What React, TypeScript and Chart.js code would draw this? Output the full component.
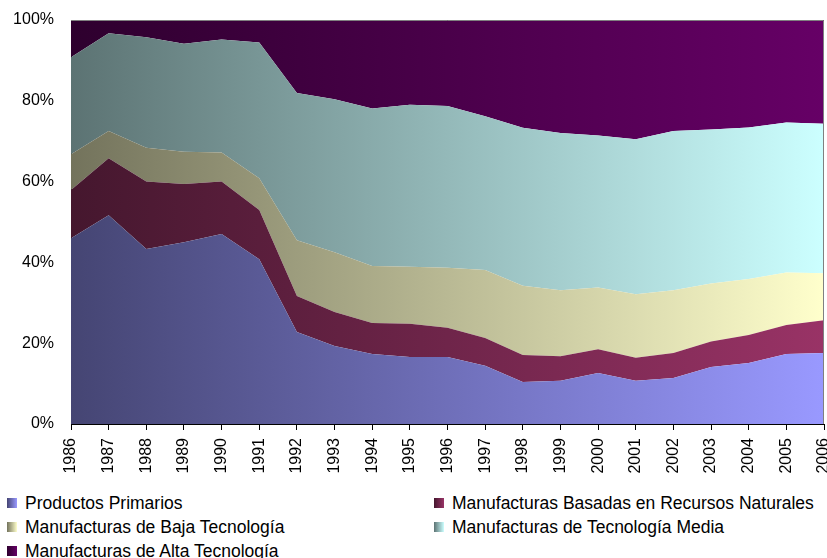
import React, { useEffect, useRef } from "react";
import { Chart, registerables } from "chart.js";

Chart.register(...registerables);

const years = ["1986","1987","1988","1989","1990","1991","1992","1993","1994","1995","1996","1997","1998","1999","2000","2001","2002","2003","2004","2005","2006"];

const productosPrimarios = [46.0, 51.7, 43.3, 45.0, 47.0, 40.8, 22.8, 19.3, 17.3, 16.6, 16.6, 14.4, 10.4, 10.7, 12.6, 10.7, 11.4, 14.1, 15.1, 17.3, 17.6];
const basadasRecursos = [11.9, 14.1, 16.7, 14.4, 13.0, 12.2, 8.9, 8.4, 7.7, 8.2, 7.2, 6.9, 6.7, 6.1, 5.9, 5.7, 6.2, 6.3, 6.9, 7.2, 8.1];
const bajaTecnologia = [8.9, 6.7, 8.4, 8.0, 7.2, 7.8, 13.8, 14.8, 14.1, 14.1, 14.9, 16.8, 17.1, 16.3, 15.3, 15.7, 15.5, 14.4, 13.9, 13.0, 11.6];
const mediaTecnologia = [24.0, 24.2, 27.3, 26.7, 28.0, 33.6, 36.4, 37.9, 39.0, 40.1, 40.0, 38.1, 39.1, 38.9, 37.6, 38.4, 39.4, 38.1, 37.5, 37.1, 37.0];
const altaTecnologia = [9.2, 3.3, 4.3, 5.9, 4.8, 5.6, 18.1, 19.6, 21.9, 21.0, 21.3, 23.8, 26.7, 28.0, 28.6, 29.5, 27.5, 27.1, 26.6, 25.4, 25.7];

const yTicks = [0, 20, 40, 60, 80, 100];

const seriesNames = [
  "Productos Primarios",
  "Manufacturas Basadas en Recursos Naturales",
  "Manufacturas de Baja Tecnología",
  "Manufacturas de Tecnología Media",
  "Manufacturas de Alta Tecnología",
];
const seriesData = [productosPrimarios, basadasRecursos, bajaTecnologia, mediaTecnologia, altaTecnologia];
const seriesColors: [number, number, number][] = [
  [153, 153, 255],
  [153, 51, 102],
  [255, 255, 204],
  [204, 255, 255],
  [102, 0, 102],
];

const DARK = 0.45;
const rgb = (c: [number, number, number], f: number) =>
  `rgb(${Math.round(c[0] * f)},${Math.round(c[1] * f)},${Math.round(c[2] * f)})`;

const FONT = '"Liberation Sans", Arial, sans-serif';

export default function App() {
  const ref = useRef<HTMLCanvasElement | null>(null);

  useEffect(() => {
    if (!ref.current) return;

    const xLabelPlugin = {
      id: "xLabels",
      afterDraw(chart: any) {
        const { ctx, chartArea } = chart;
        const xs = chart.scales.x;
        ctx.save();
        ctx.font = `16px ${FONT}`;
        ctx.fillStyle = "#000";
        ctx.textAlign = "right";
        ctx.textBaseline = "middle";
        years.forEach((lab, i) => {
          const x = xs.getPixelForValue(i);
          ctx.save();
          ctx.translate(x, chartArea.bottom + 14);
          ctx.rotate(-Math.PI / 2);
          ctx.fillText(lab, 0, 0);
          ctx.restore();
        });
        ctx.restore();
      },
    };

    const borderPlugin = {
      id: "plotBorder",
      afterDatasetsDraw(chart: any) {
        const { ctx, chartArea } = chart;
        ctx.save();
        ctx.strokeStyle = "#808080";
        ctx.lineWidth = 1;
        ctx.beginPath();
        ctx.moveTo(chartArea.left, chartArea.top + 0.5);
        ctx.lineTo(chartArea.right - 0.5, chartArea.top + 0.5);
        ctx.lineTo(chartArea.right - 0.5, chartArea.bottom);
        ctx.stroke();
        ctx.restore();
      },
    };

    const chart = new Chart(ref.current, {
      type: "line",
      data: {
        labels: years,
        datasets: seriesData.map((d, i) => ({
          label: seriesNames[i],
          data: d,
          fill: i === 0 ? "origin" : "-1",
          borderWidth: 0,
          borderColor: "transparent",
          pointRadius: 0,
          tension: 0,
          backgroundColor: (c: any) => {
            const area = c.chart.chartArea;
            if (!area) return rgb(seriesColors[i], 1);
            const g = c.chart.ctx.createLinearGradient(area.left, 0, area.right, 0);
            g.addColorStop(0, rgb(seriesColors[i], DARK));
            g.addColorStop(1, rgb(seriesColors[i], 1));
            return g;
          },
        })),
      },
      options: {
        animation: false,
        responsive: false,
        maintainAspectRatio: false,
        layout: { padding: { top: 20, right: 3, left: 0, bottom: 0 } },
        plugins: {
          legend: { display: false },
          tooltip: { enabled: false },
        },
        elements: { line: { borderWidth: 0 } },
        scales: {
          x: {
            type: "category",
            offset: false,
            grid: { drawOnChartArea: false, drawTicks: true, tickLength: 6, color: "#000" },
            border: { color: "#000", width: 1 },
            ticks: { display: false, autoSkip: false },
            afterFit: (s: any) => { s.height = 66; s.paddingLeft = 0; s.paddingRight = 0; },
          },
          y: {
            stacked: true,
            min: 0,
            max: 100,
            afterBuildTicks: (s: any) => { s.ticks = yTicks.map((v) => ({ value: v })); },
            grid: { display: false, drawTicks: false },
            border: { color: "#000", width: 1 },
            ticks: {
              padding: 17,
              color: "#000",
              font: { family: FONT, size: 16 },
              callback: (v: any) => `${v}%`,
            },
            afterFit: (s: any) => { s.width = 71; s.paddingTop = 0; s.paddingBottom = 0; },
          },
        },
      } as any,
      plugins: [xLabelPlugin, borderPlugin],
    });
    return () => chart.destroy();
  }, []);

  const legendPos = [
    { left: 7, top: 491 },
    { left: 434, top: 491 },
    { left: 7, top: 515 },
    { left: 434, top: 515 },
    { left: 7, top: 539 },
  ];

  return (
    <div style={{ position: "fixed", left: 0, top: 0, width: 827, height: 558, background: "#fff", overflow: "hidden" }}>
      <canvas ref={ref} width={827} height={490} style={{ position: "absolute", left: 0, top: 0, width: 827, height: 490 }} />
      {seriesNames.map((n, i) => (
        <div
          key={n}
          style={{
            position: "absolute",
            left: legendPos[i].left,
            top: legendPos[i].top,
            height: 24,
            display: "flex",
            alignItems: "center",
            fontFamily: FONT,
            fontSize: 17.5,
            color: "#000",
            whiteSpace: "nowrap",
          }}
        >
          <span
            style={{
              display: "inline-block",
              width: 10,
              height: 10,
              marginRight: 8,
              background: `linear-gradient(to right, ${rgb(seriesColors[i], DARK)}, ${rgb(seriesColors[i], 1)})`,
            }}
          />
          <span>{n}</span>
        </div>
      ))}
    </div>
  );
}
